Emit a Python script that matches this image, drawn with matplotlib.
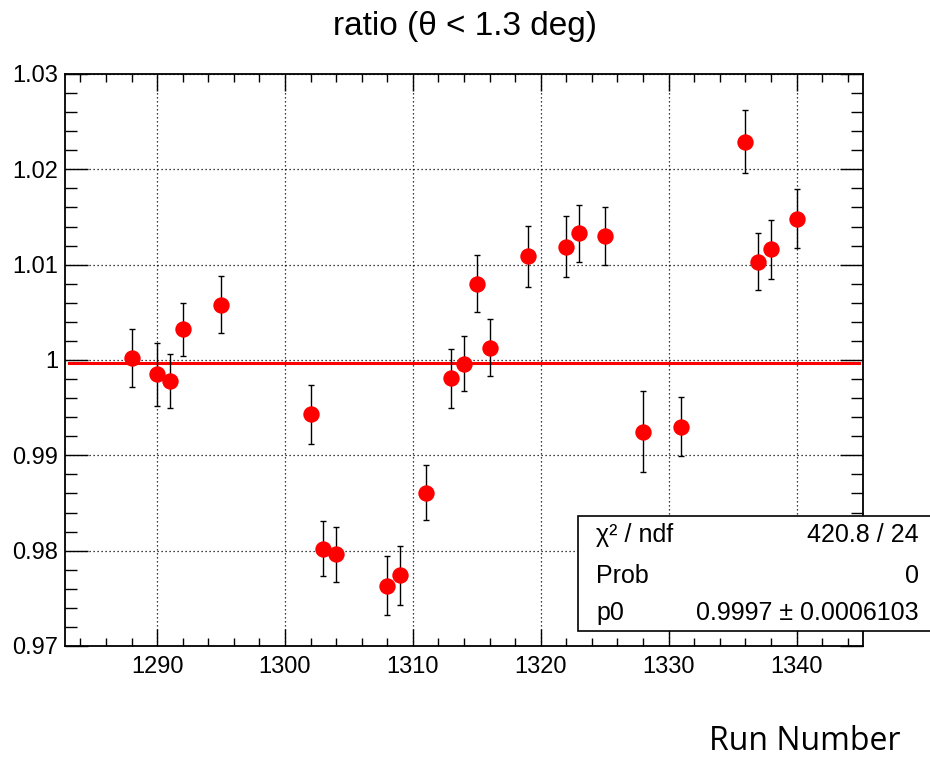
import matplotlib
matplotlib.use("Agg")
import matplotlib.pyplot as plt
from matplotlib.patches import Rectangle
from matplotlib.ticker import MultipleLocator

# run-by-run ratio values
runs = [1288, 1290, 1291, 1292, 1295, 1302, 1303, 1304, 1308, 1309, 1311, 1313, 1314,
        1315, 1316, 1319, 1322, 1323, 1325, 1328, 1331, 1336, 1337, 1338, 1340]
ratio = [1.0002, 0.9985, 0.9978, 1.0032, 1.0058, 0.9943, 0.9802, 0.9796, 0.9763, 0.9774,
         0.9861, 0.9981, 0.9996, 1.0080, 1.0013, 1.0109, 1.0119, 1.0133, 1.0130, 0.9925,
         0.9930, 1.0229, 1.0103, 1.0116, 1.0148]
ratio_err = [0.0030, 0.0033, 0.0028, 0.0028, 0.0030, 0.0031, 0.0029, 0.0029, 0.0031, 0.0031,
             0.0029, 0.0031, 0.0029, 0.0030, 0.0030, 0.0032, 0.0032, 0.0030, 0.0030, 0.0042,
             0.0031, 0.0033, 0.0030, 0.0031, 0.0031]

# constant fit result
p0 = 0.9997
stats_rows = [("χ² / ndf", "420.8 / 24"), ("Prob", "0"), ("p0", "0.9997 ± 0.0006103")]

W, H = 930, 759
plt.rcParams["font.family"] = ["Liberation Sans", "DejaVu Sans"]

fig = plt.figure(figsize=(W / 100, H / 100), dpi=100)
ax = fig.add_axes([65 / W, 1 - 646 / H, (863 - 65) / W, (646 - 74) / H])

ax.errorbar(runs, ratio, yerr=ratio_err, fmt="none", ecolor="black",
            elinewidth=1.0, capsize=2.4, capthick=1.0, zorder=3)
ax.plot(runs, ratio, "o", color="#ff0000", markersize=11.8, markeredgewidth=0, zorder=4)
ax.plot([1283.1, 1344.9], [p0, p0], color="#ff0000", linewidth=2.2, zorder=2)

ax.set_xlim(1282.8, 1345.2)
ax.set_ylim(0.97, 1.03)
ax.xaxis.set_major_locator(MultipleLocator(10))
ax.xaxis.set_minor_locator(MultipleLocator(2))
ax.yaxis.set_major_locator(MultipleLocator(0.01))
ax.yaxis.set_minor_locator(MultipleLocator(0.002))
ax.yaxis.set_major_formatter(plt.FuncFormatter(lambda v, _: f"{v:.2f}".rstrip("0").rstrip(".")))

ax.grid(True, which="major", color="black", linestyle=(0, (1, 2.2)), linewidth=0.9)
ax.tick_params(which="both", direction="in", top=True, right=True, width=1.0,
               labelsize=17, colors="black")
ax.tick_params(axis="y", which="major", length=16.5, pad=5)
ax.tick_params(axis="y", which="minor", length=8.5)
ax.tick_params(axis="x", which="major", length=12, pad=7)
ax.tick_params(axis="x", which="minor", length=6)
for s in ax.spines.values():
    s.set_linewidth(1.3)

fig.text(465 / W, 1 - 27 / H, "ratio (θ < 1.3 deg)", fontsize=24,
         ha="center", va="center")
fig.text(805 / W, 1 - 742 / H, "Run Number", fontsize=23, family="Open Sans",
         ha="center", va="center")

# stats box
box = Rectangle((578 / W, 1 - 631 / H), 0.5, (631 - 516) / H, transform=fig.transFigure,
                facecolor="white", edgecolor="black", linewidth=1.2, zorder=10)
fig.add_artist(box)
for (lab, val), yp in zip(stats_rows, [535, 576, 613]):
    fig.text(596 / W, 1 - yp / H, lab, fontsize=18, ha="left", va="center", zorder=11)
    fig.text(919 / W, 1 - yp / H, val, fontsize=18, ha="right", va="center", zorder=11)

fig.savefig("out.png", dpi=100)
